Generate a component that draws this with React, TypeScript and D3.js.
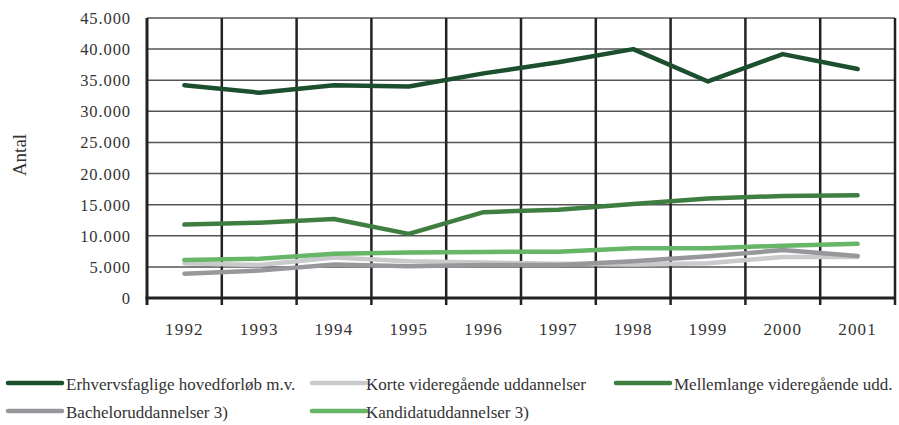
import React from "react";
import * as d3 from "d3";

const years = ["1992", "1993", "1994", "1995", "1996", "1997", "1998", "1999", "2000", "2001"];
const erhverv = [34200, 33000, 34200, 34000, 36100, 37900, 40000, 34800, 39200, 36800];
const korte = [5600, 5300, 6500, 5900, 5700, 5500, 5400, 5600, 6600, 6600];
const mellemlange = [11800, 12100, 12700, 10300, 13800, 14200, 15100, 16000, 16400, 16500];
const bachelor = [3900, 4400, 5400, 5100, 5300, 5300, 5900, 6700, 7700, 6750];
const kandidat = [6100, 6300, 7100, 7300, 7400, 7450, 8000, 8000, 8400, 8700];
const yTicks = [0, 5000, 10000, 15000, 20000, 25000, 30000, 35000, 40000, 45000];

const series = [
  { name: "Erhvervsfaglige hovedforløb m.v.", values: erhverv, color: "#1b4f2e" },
  { name: "Korte videregående uddannelser", values: korte, color: "#c9cacb" },
  { name: "Mellemlange videregående udd.", values: mellemlange, color: "#3e7f41" },
  { name: "Bacheloruddannelser 3)", values: bachelor, color: "#97989c" },
  { name: "Kandidatuddannelser 3)", values: kandidat, color: "#67b567" },
];
const drawOrder = [1, 3, 4, 2, 0];
const legendPos = [
  { x: 8, y: 383, tx: 66 },
  { x: 312, y: 383, tx: 366 },
  { x: 616, y: 383, tx: 674 },
  { x: 8, y: 411, tx: 66 },
  { x: 312, y: 411, tx: 366 },
];

const W = 899, H = 425;
const left = 147, right = 895, top = 18, bottom = 298;

export default function App() {
  const x = d3.scaleBand<string>().domain(years).range([left, right]).paddingInner(0).paddingOuter(0);
  const y = d3.scaleLinear().domain([0, 45000]).range([bottom, top]);
  const fmt = (v: number) => (v === 0 ? "0" : d3.format(",")(v).replace(/,/g, "."));
  const line = d3
    .line<number>()
    .x((_, i) => (x(years[i]) as number) + x.bandwidth() / 2)
    .y((d) => y(d));
  const vLines = years.map((yr) => x(yr) as number).concat([right]);

  return (
    <svg
      width={W}
      height={H}
      fontFamily="Liberation Serif"
      style={{ position: "absolute", left: 0, top: 0, display: "block", background: "#fff", fontFamily: "Liberation Serif" }}
    >
      {yTicks.slice(1).map((t) => (
        <line key={t} x1={left} x2={right} y1={y(t)} y2={y(t)} stroke="#555" strokeWidth={1.5} />
      ))}
      {vLines.map((vx, i) => (
        <line key={i} x1={vx} x2={vx} y1={top} y2={bottom + 7} stroke="#222" strokeWidth={i === 0 ? 3 : 2.5} />
      ))}
      <line x1={left - 1.5} x2={right + 1} y1={bottom} y2={bottom} stroke="#222" strokeWidth={3} />
      {yTicks.map((t) => (
        <text key={t} x={131} y={y(t) + 6} textAnchor="end" fontSize={16.5} letterSpacing={0.9} fill="#333">
          {fmt(t)}
        </text>
      ))}
      {years.map((yr) => (
        <text key={yr} x={(x(yr) as number) + x.bandwidth() / 2} y={335} textAnchor="middle" fontSize={17} letterSpacing={1.2} fill="#333">
          {yr}
        </text>
      ))}
      <text transform="translate(26,155) rotate(-90)" textAnchor="middle" fontSize={19} fill="#333">
        Antal
      </text>
      {drawOrder.map((si) => (
        <path key={si} d={line(series[si].values) || ""} fill="none" stroke={series[si].color} strokeWidth={4.5} strokeLinecap="round" strokeLinejoin="round" />
      ))}
      {series.map((s, i) => (
        <g key={s.name}>
          <line x1={legendPos[i].x} x2={legendPos[i].x + 54} y1={legendPos[i].y} y2={legendPos[i].y} stroke={s.color} strokeWidth={4.5} strokeLinecap="round" />
          <text x={legendPos[i].tx} y={legendPos[i].y + 6.5} fontSize={17} fill="#333">
            {s.name}
          </text>
        </g>
      ))}
    </svg>
  );
}
